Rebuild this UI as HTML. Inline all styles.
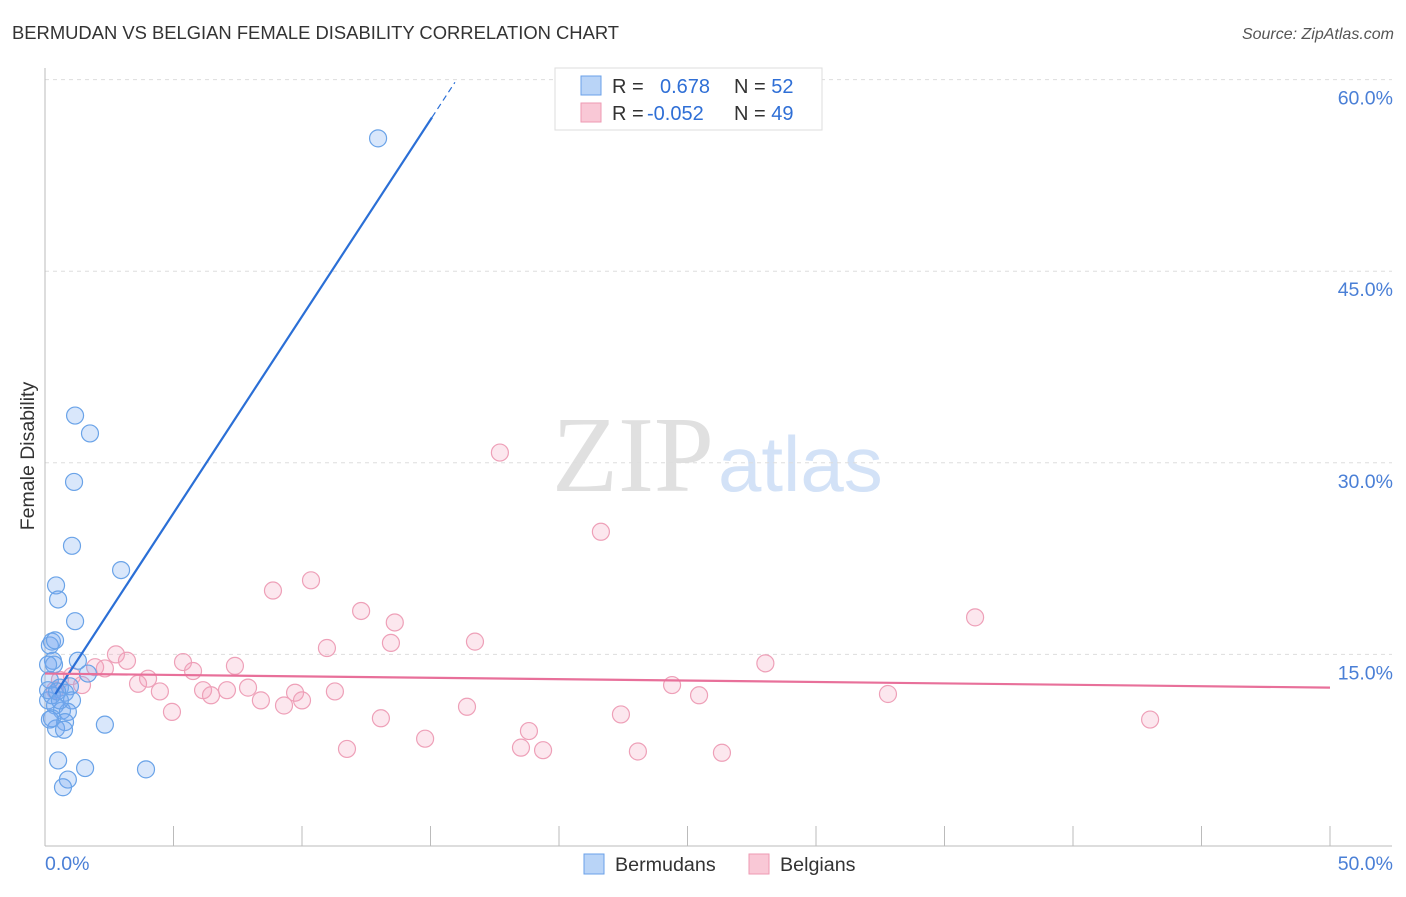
<!DOCTYPE html>
<html><head><meta charset="utf-8"><style>
body{margin:0;background:#fff;font-family:"Liberation Sans",sans-serif}
</style></head><body>
<svg width="1406" height="892" xmlns="http://www.w3.org/2000/svg" font-family="Liberation Sans, sans-serif">
<text x="12" y="39" font-size="18.4" fill="#333">BERMUDAN VS BELGIAN FEMALE DISABILITY CORRELATION CHART</text>
<text x="1394" y="39" font-size="16" fill="#555" text-anchor="end" font-style="italic">Source: ZipAtlas.com</text>
<text x="714" y="491" font-size="108" text-anchor="end" fill="#e0e0e0" font-family="Liberation Serif, serif">ZIP</text>
<text x="718" y="491" font-size="78" fill="#d3e2f7">atlas</text>
<g id="grid"></g>
<line x1="45" y1="68" x2="45" y2="846" stroke="#bbb"/>
<line x1="45" y1="846" x2="1392" y2="846" stroke="#bbb"/>
<text transform="translate(34,456) rotate(-90)" font-size="19.5" fill="#333" text-anchor="middle">Female Disability</text>
<text x="45" y="870" font-size="19.5" fill="#4a7fd6">0.0%</text>
<text x="1393" y="870" font-size="19.5" fill="#4a7fd6" text-anchor="end">50.0%</text>
<g id="pts"></g>
<g id="lines"></g>
<g>
<rect x="555" y="68" width="267" height="62" fill="#fff" stroke="#ddd"/>
<rect x="581" y="76" width="20" height="19" fill="#b9d4f7" stroke="#6aa0e8"/>
<rect x="581" y="103" width="20" height="19" fill="#f9c8d6" stroke="#ee9ab3"/>
<text x="612" y="93" font-size="20" fill="#333">R = <tspan x="660" fill="#2f6fd6">0.678</tspan><tspan x="734" fill="#333">N = </tspan><tspan fill="#2f6fd6">52</tspan></text>
<text x="612" y="120" font-size="20" fill="#333">R = <tspan x="647" fill="#2f6fd6">-0.052</tspan><tspan x="734" fill="#333">N = </tspan><tspan fill="#2f6fd6">49</tspan></text>
</g>
<g>
<rect x="584" y="854" width="20" height="20" fill="#b9d4f7" stroke="#6aa0e8"/>
<text x="615" y="871" font-size="19.7" fill="#333">Bermudans</text>
<rect x="749" y="854" width="20" height="20" fill="#f9c8d6" stroke="#ee9ab3"/>
<text x="780" y="871" font-size="19.7" fill="#333">Belgians</text>
</g>
</svg>
<script>
const yTicks=[15,30,45,60];
const xTicks=[0,5,10,15,20,25,30,35,40,45,50];
const blueX=[12.96,1.17,1.75,1.13,1.05,2.96,0.43,0.51,1.17,0.27,0.19,0.31,0.35,1.28,1.67,0.19,0.58,0.97,0.78,0.12,1.05,0.39,0.66,0.89,0.27,0.78,0.43,0.74,2.33,0.51,1.56,3.93,0.89,0.70,0.12,0.27,0.47,0.12,0.39,0.58,0.19];
const blueY=[55.4,33.7,32.3,28.5,23.5,21.6,20.4,19.3,17.6,16.0,15.7,14.5,14.2,14.5,13.5,13.0,12.4,12.5,12.0,11.4,11.4,11.0,10.6,10.5,10.0,9.7,9.2,9.1,9.5,6.7,6.1,6.0,5.2,4.6,12.2,11.8,12.1,14.2,16.1,11.4,9.9];
const pinkX=[17.70,21.63,36.19,10.35,8.87,12.30,13.61,16.73,13.46,10.97,2.76,3.19,5.37,1.95,2.33,7.39,5.76,28.03,4.01,3.62,1.05,1.44,24.40,4.47,6.15,7.08,7.90,6.46,9.73,11.28,25.45,32.80,8.40,9.30,10.00,4.94,16.42,13.07,22.41,43.00,18.83,14.79,11.75,18.52,19.38,23.07,26.34,0.58,0.39];
const pinkY=[30.8,24.6,17.9,20.8,20.0,18.4,17.5,16.0,15.9,15.5,15.0,14.5,14.4,14.0,13.9,14.1,13.7,14.3,13.1,12.7,13.3,12.6,12.6,12.1,12.2,12.2,12.4,11.8,12.0,12.1,11.8,11.9,11.4,11.0,11.4,10.5,10.9,10.0,10.3,9.9,9.0,8.4,7.6,7.7,7.5,7.4,7.3,13.0,12.2];
const blueFit=[10.66,3.08];
const pinkFit=[13.5,-0.022];
const NS="http://www.w3.org/2000/svg";
const X=v=>45+v/50*1285, Y=v=>846-v/15*191.6;
function mk(t,a,p){const e=document.createElementNS(NS,t);for(const k in a)e.setAttribute(k,a[k]);p.appendChild(e);return e;}
const g=document.getElementById('grid');
yTicks.forEach(t=>{
 const l=mk('line',{x1:45,x2:1392,y1:Y(t),y2:Y(t),stroke:'#ddd','stroke-dasharray':'4,4'},g);
 
 
 const tx=mk('text',{x:1393,y:Y(t)+25,'font-size':19.5,fill:'#4a7fd6','text-anchor':'end'},g);
 tx.textContent=t.toFixed(1)+'%';
 
 
});
xTicks.forEach(t=>{
 const l=mk('line',{x1:X(t),x2:X(t),y1:826,y2:846,stroke:'#bbb'},g);
 
 
});
const p=document.getElementById('pts');
pinkX.forEach((x,i)=>{
 const c=mk('circle',{cx:X(x),cy:Y(pinkY[i]),r:8.5,fill:'rgba(244,160,188,0.25)',stroke:'#eea0b8','stroke-width':1.2},p);
 
 
});
blueX.forEach((x,i)=>{
 const c=mk('circle',{cx:X(x),cy:Y(blueY[i]),r:8.5,fill:'rgba(120,170,240,0.28)',stroke:'#6aa3e8','stroke-width':1.2},p);
 
 
});
const L=document.getElementById('lines');
const f=(fit,x)=>fit[0]+fit[1]*x;
let a=mk('line',{x1:X(0.4),y1:Y(f(blueFit,0.4)),x2:X(15.06),y2:Y(f(blueFit,15.06)),stroke:'#2b6fd6','stroke-width':2.2},L);


a=mk('line',{x1:X(15.06),y1:Y(f(blueFit,15.06)),x2:X(15.95),y2:Y(f(blueFit,15.95)),stroke:'#2b6fd6','stroke-width':1.2,'stroke-dasharray':'6,4'},L);


a=mk('line',{x1:X(0),y1:Y(f(pinkFit,0)),x2:X(50),y2:Y(f(pinkFit,50)),stroke:'#e8709a','stroke-width':2.2},L);


</script>
</body></html>
